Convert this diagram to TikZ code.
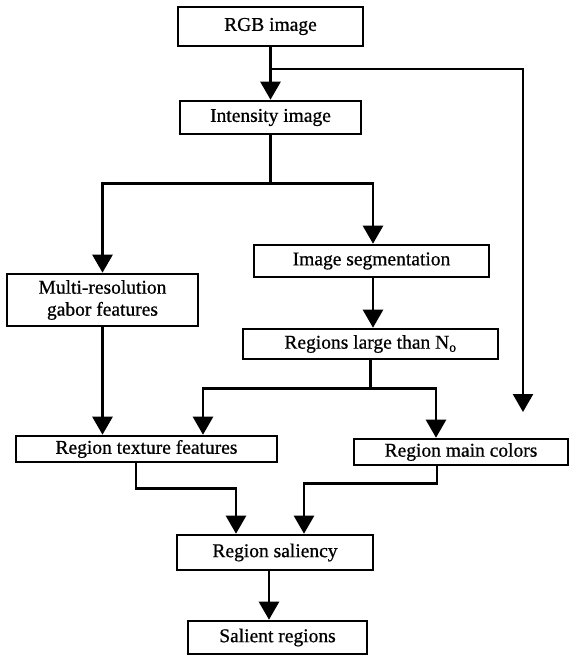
\documentclass[tikz,border=0pt]{standalone}
\usepackage{fontspec}
\setmainfont{Liberation Serif}
\newfontfamily\boxfont{Liberation Serif}[FakeBold=0.7]
\usetikzlibrary{arrows.meta}

\begin{document}
\begin{tikzpicture}[x=1pt,y=-1pt,line width=2.6pt,
  box/.style={draw,inner sep=0pt,align=center,font=\boxfont\fontsize{19.5}{22}\selectfont},
  arr/.style={-{Triangle[length=18pt,width=20pt]}}]
  \useasboundingbox (0,0) rectangle (571,656);
  \node[box,minimum width=185pt,minimum height=39pt] (rgb) at (270.5,26.5) {RGB image};
  \node[box,minimum width=181pt,minimum height=33pt] (intensity) at (270.5,117.5) {Intensity image};
  \node[box,minimum width=191pt,minimum height=52pt] (multi) at (102.5,300) {Multi-resolution\\gabor features};
  \node[box,minimum width=235pt,minimum height=32pt] (segment) at (371.5,261) {Image segmentation};
  \node[box,minimum width=255pt,minimum height=30pt] (regions) at (370.5,344) {Regions large than N\textsubscript{o}};
  \node[box,minimum width=261pt,minimum height=26pt] (texture) at (146.5,449) {Region texture features};
  \node[box,minimum width=214pt,minimum height=26pt] (colors) at (461,452) {Region main colors};
  \node[box,minimum width=196pt,minimum height=35pt] (saliency) at (275,552.5) {Region saliency};
  \node[box,minimum width=179pt,minimum height=33pt] (salient) at (277.5,637.5) {Salient regions};
  \coordinate (rightend) at (523,412);
  \draw[arr] (rgb.south) -- (intensity.north);
  \draw[arr] (rgb.south |- 0,69) -| (rightend);
  \draw (intensity.south) -- ++(0,48) coordinate (fork1);
  \draw[arr] (fork1) -| (multi.north);
  \draw[arr] (fork1) -| ([xshift=1.5pt]segment.north);
  \draw[arr] ([xshift=1.5pt]segment.south) -- ([xshift=1.5pt]segment.south |- regions.north);
  \draw (regions.south) -- ++(0,28) coordinate (fork2);
  \draw[arr] (fork2) -| ([xshift=56.5pt]texture.north);
  \draw[arr] (fork2) -| ([xshift=-25pt]colors.north);
  \draw[arr] (multi.south) -- (multi.south |- texture.north);
  \draw[arr] ([xshift=-10.5pt]texture.south) -- ++(0,25) -| ([xshift=-39pt]saliency.north);
  \draw[arr] ([xshift=-24pt]colors.south) -- ++(0,17) -| ([xshift=29pt]saliency.north);
  \draw[arr] ([xshift=-6pt]saliency.south) -- ([xshift=-6pt]saliency.south |- salient.north);
\end{tikzpicture}
\end{document}
